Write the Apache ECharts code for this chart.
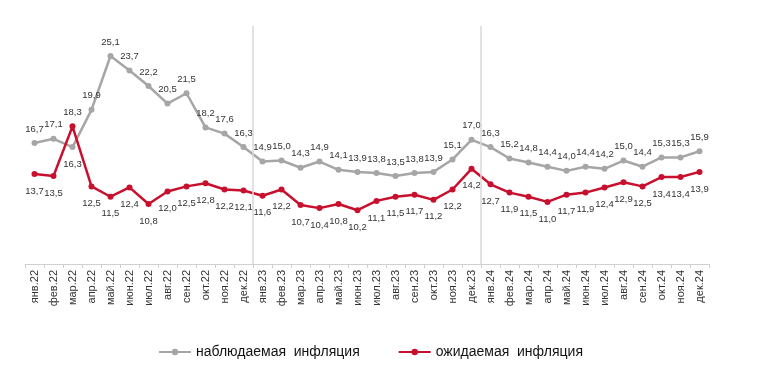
<!DOCTYPE html>
<html>
<head>
<meta charset="utf-8">
<script src="https://cdn.jsdelivr.net/npm/echarts@6/dist/echarts.min.js"></script>
<style>html,body{margin:0;padding:0;background:#fff;}#c{width:758px;height:370px;}</style>
</head>
<body>
<div id="c"></div>
<script>
var categories = ['янв.22','фев.22','мар.22','апр.22','май.22','июн.22','июл.22','авг.22','сен.22','окт.22','ноя.22','дек.22',
  'янв.23','фев.23','мар.23','апр.23','май.23','июн.23','июл.23','авг.23','сен.23','окт.23','ноя.23','дек.23',
  'янв.24','фев.24','мар.24','апр.24','май.24','июн.24','июл.24','авг.24','сен.24','окт.24','ноя.24','дек.24'];
var observed = [16.7,17.1,16.3,19.9,25.1,23.7,22.2,20.5,21.5,18.2,17.6,16.3,
  14.9,15.0,14.3,14.9,14.1,13.9,13.8,13.5,13.8,13.9,15.1,17.0,
  16.3,15.2,14.8,14.4,14.0,14.4,14.2,15.0,14.4,15.3,15.3,15.9];
var expected = [13.7,13.5,18.3,12.5,11.5,12.4,10.8,12.0,12.5,12.8,12.2,12.1,
  11.6,12.2,10.7,10.4,10.8,10.2,11.1,11.5,11.7,11.2,12.2,14.2,
  12.7,11.9,11.5,11.0,11.7,11.9,12.4,12.9,12.5,13.4,13.4,13.9];
var seriesNames = ['наблюдаемая  инфляция', 'ожидаемая  инфляция'];
var separators = [12, 24];

function fmt(v){ return v.toFixed(1).replace('.', ','); }

var obsData = observed.map(function(v,i){
  var d = {value: v};
  if (i === 2) d.label = {position: 'bottom', distance: 9};
  return d;
});
var expData = expected.map(function(v,i){
  var d = {value: v};
  if (i === 2) d.label = {position: 'top', distance: 6};
  return d;
});

var chart = echarts.init(document.getElementById('c'), null, {renderer: 'canvas'});
var ff = 'Liberation Sans, Arial, sans-serif';
chart.setOption({
  animation: false,
  backgroundColor: '#fff',
  grid: {left: 25, right: 49, top: 26, bottom: 106, containLabel: false},
  legend: {
    data: seriesNames,
    left: 153, top: 340,
    itemWidth: 32, itemHeight: 8, itemGap: 38,
    textStyle: {fontSize: 14, color: '#111', fontFamily: ff}
  },
  xAxis: [{
    type: 'category', data: categories, boundaryGap: true,
    axisLine: {lineStyle: {color: '#d0d0d0', width: 1}},
    axisTick: {show: true, length: 4, lineStyle: {color: '#d0d0d0'}},
    axisLabel: {rotate: 90, interval: 0, fontSize: 11, color: '#333', margin: 6, fontFamily: ff}
  }, {
    type: 'value', min: 0, max: 36, show: false
  }],
  yAxis: {type: 'value', min: 5, max: 28, show: false, splitLine: {show: false}},
  series: [{
    name: seriesNames[0], type: 'line', data: obsData,
    symbol: 'circle', symbolSize: 6,
    itemStyle: {color: '#a6a6a6'},
    lineStyle: {color: '#a6a6a6', width: 2.5},
    label: {show: true, position: 'top', distance: 6, fontSize: 9.5, color: '#333', fontFamily: ff,
      formatter: function(p){ return fmt(p.value); }},
    z: 3
  }, {
    name: seriesNames[1], type: 'line', data: expData,
    symbol: 'circle', symbolSize: 6,
    itemStyle: {color: '#c8102e'},
    lineStyle: {color: '#c8102e', width: 2.5},
    label: {show: true, position: 'bottom', distance: 9, fontSize: 9.5, color: '#333', fontFamily: ff,
      formatter: function(p){ return fmt(p.value); }},
    z: 4
  }, {
    name: 'sep', type: 'line', xAxisIndex: 1, data: [],
    markLine: {
      silent: true, symbol: 'none', label: {show: false},
      lineStyle: {color: '#d9d9d9', width: 1.5, type: 'solid'},
      data: separators.map(function(s){ return {xAxis: s}; })
    },
    z: 1
  }]
});
</script>
</body>
</html>
